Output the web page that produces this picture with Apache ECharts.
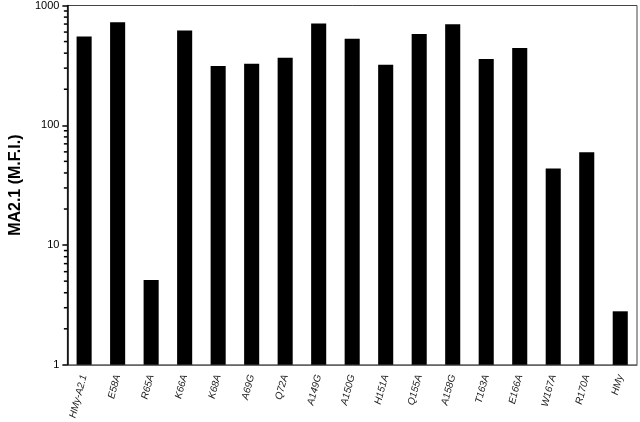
<!DOCTYPE html>
<html>
<head>
<meta charset="utf-8">
<script src="https://cdn.jsdelivr.net/npm/echarts@6/dist/echarts.min.js"></script>
<style>
html,body{margin:0;padding:0;background:#fff;}
#chart{width:640px;height:422px;}
</style>
</head>
<body>
<div id="chart"></div>
<script>
var categories = ["HMy-A2.1","E58A","R65A","K66A","K68A","A69G","Q72A","A149G","A150G","H151A","Q155A","A158G","T163A","E166A","W167A","R170A","HMy"];
var values = [552, 726, 5.1, 618, 313, 326, 367, 706, 528, 320, 577, 698, 358, 441, 43.5, 59.5, 2.8];
var minorTickValues = [2,3,4,5,6,7,8,9,20,30,40,50,60,70,80,90,200,300,400,500,600,700,800,900];
var yAxisTitle = "MA2.1 (M.F.I.)";

var chart = echarts.init(document.getElementById('chart'), null, {renderer: 'canvas'});
chart.setOption({
  animation: false,
  backgroundColor: '#fff',
  grid: {left: 52, right: 3, top: 5.5, bottom: 54.5, show: true, borderColor: '#444', borderWidth: 1},
  xAxis: {
    type: 'category',
    data: categories,
    axisLine: {show: true, lineStyle: {color: '#666', width: 1}},
    axisTick: {show: false},
    axisLabel: {rotate: 75, fontSize: 10, fontStyle: 'italic', fontFamily: 'Liberation Sans, Arial, sans-serif', color: '#222', margin: 10, interval: 0}
  },
  yAxis: {
    type: 'log',
    logBase: 10,
    min: 1,
    max: 1000,
    name: yAxisTitle,
    nameLocation: 'middle',
    nameGap: 29,
    nameTextStyle: {fontSize: 16, fontWeight: 'bold', fontFamily: 'Liberation Sans, Arial, sans-serif', color: '#000'},
    axisLine: {show: true, lineStyle: {color: '#000', width: 1.5}},
    axisTick: {show: true, length: 5, lineStyle: {color: '#000', width: 1.5}},
    minorTick: {show: false},
    splitLine: {show: false},
    axisLabel: {fontSize: 11, fontFamily: 'Liberation Sans, Arial, sans-serif', color: '#000', margin: 8,
      formatter: function (v) { return String(Math.round(v)); }}
  },
  series: [
    {
      type: 'bar',
      data: values,
      barWidth: '45%',
      itemStyle: {color: '#000'}
    }
  ]
});

// Minor log ticks placed through the library's own scales
var c0 = chart.convertToPixel({xAxisIndex: 0}, 0);
var c1 = chart.convertToPixel({xAxisIndex: 0}, 1);
var axisX = c0 - (c1 - c0) / 2;
var tickEls = minorTickValues.map(function (v) {
  var y = chart.convertToPixel({yAxisIndex: 0}, v);
  return {
    type: 'line',
    silent: true,
    z: 100,
    shape: {x1: axisX - 3.5, y1: y, x2: axisX, y2: y},
    style: {stroke: '#000', lineWidth: 1.5}
  };
});
chart.setOption({graphic: {elements: tickEls}});
</script>
</body>
</html>
